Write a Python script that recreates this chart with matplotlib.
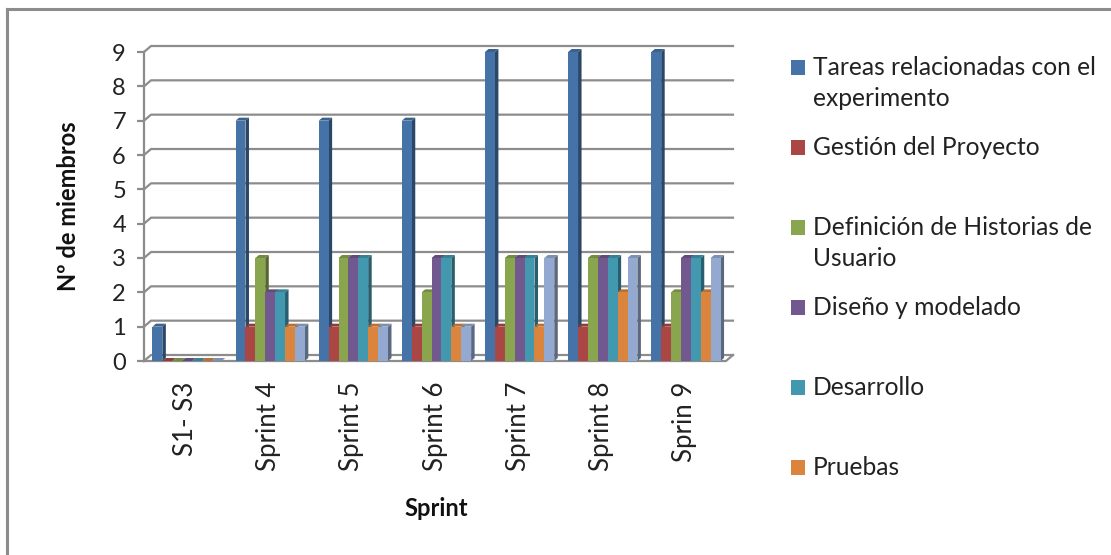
import matplotlib
matplotlib.use("Agg")
import matplotlib.pyplot as plt
from matplotlib.patches import Polygon, Rectangle
from matplotlib.colors import to_rgb
import numpy as np

plt.rcParams['font.family'] = ['Lato', 'DejaVu Sans']

categories = ["S1- S3", "Sprint 4", "Sprint 5", "Sprint 6", "Sprint 7", "Sprint 8", "Sprin 9"]
series_names = [
    ["Tareas relacionadas con el", "experimento"],
    ["Gestión del Proyecto"],
    ["Definición de Historias de", "Usuario"],
    ["Diseño y modelado"],
    ["Desarrollo"],
    ["Pruebas"],
]
tareas = [1, 7, 7, 7, 9, 9, 9]
gestion = [0, 1, 1, 1, 1, 1, 1]
definicion = [0, 3, 3, 2, 3, 3, 2]
diseno = [0, 2, 3, 3, 3, 3, 3]
desarrollo = [0, 2, 3, 3, 3, 3, 3]
pruebas = [0, 1, 1, 1, 1, 2, 2]
otros = [0, 1, 1, 1, 3, 3, 3]
series = [tareas, gestion, definicion, diseno, desarrollo, pruebas, otros]
colors = ['#4572A7', '#AA4643', '#89A54E', '#71588F', '#4198AF', '#DB843D', '#93A9CF']

W, H = 1111, 555
fig = plt.figure(figsize=(W / 100, H / 100), dpi=100)
fig.patch.set_facecolor('white')

# outer frame of the chart area
fig.add_artist(plt.Line2D([7 / W, 7 / W], [0, 1 - 9 / H], color='#8c8c8c', lw=2.2))
fig.add_artist(plt.Line2D([7 / W, 1], [1 - 9 / H, 1 - 9 / H], color='#8c8c8c', lw=2.2))

ax_left, ax_right = 144, 726
ax_top, ax_bot = 52, 361
ax = fig.add_axes([ax_left / W, (H - ax_bot) / H, (ax_right - ax_left) / W, (ax_bot - ax_top) / H])
n = len(categories)
ymax = 9
ax.set_xlim(0, n)
ax.set_ylim(0, ymax)
for s in ['top', 'right', 'bottom']:
    ax.spines[s].set_visible(False)
ax.spines['left'].set_color('#8c8c8c')
ax.spines['left'].set_linewidth(1.6)
ax.patch.set_alpha(0)

px_x = n / (ax_right - ax_left)      # data units per pixel, x
px_y = ymax / (ax_bot - ax_top)       # data units per pixel, y

# back wall depth and bar depth
wdx, wdy = 7 * px_x, 6 * px_y
bdx, bdy = 3.5 * px_x, 3.0 * px_y

grid_kw = dict(color='#8c8c8c', lw=1.6, clip_on=False, zorder=1)
for y in range(0, ymax + 1):
    ax.plot([0, wdx, n + wdx], [y, y + wdy, y + wdy], **grid_kw)
# floor
ax.plot([0, n, n + wdx], [0, 0, wdy], **grid_kw)

ax.set_yticks(range(0, ymax + 1))
ax.set_yticklabels([str(v) for v in range(0, ymax + 1)], fontsize=17, color='#222222')
ax.tick_params(axis='y', length=5, width=1.6, color='#8c8c8c', pad=8)

ax.set_xticks(np.arange(n) + 0.5)
ax.set_xticklabels(categories, rotation=90, fontsize=18.5, color='#222222', va='top')
ax.tick_params(axis='x', length=0, pad=15)

bw = 0.119
start = 0.5 - len(series) * bw / 2 + 1.5 * px_x


def shade(c, f):
    r, g, b = to_rgb(c)
    return (r * f, g * f, b * f)


for j, (vals, col) in enumerate(zip(series, colors)):
    xs = np.arange(n) + start + j * bw
    z = 3 + j * 0.1
    bars = ax.bar(xs, vals, width=bw, align='edge', color=col, edgecolor='none', zorder=z + 0.02)
    for rect, v in zip(bars, vals):
        x0 = rect.get_x()
        x1 = x0 + rect.get_width()
        side = Polygon([(x1, 0), (x1 + bdx, bdy), (x1 + bdx, v + bdy), (x1, v)],
                       closed=True, facecolor=shade(col, 0.62), edgecolor='none', zorder=z, clip_on=False)
        top = Polygon([(x0, v), (x0 + bdx, v + bdy), (x1 + bdx, v + bdy), (x1, v)],
                      closed=True, facecolor=shade(col, 0.85), edgecolor='none', zorder=z + 0.01, clip_on=False)
        ax.add_patch(side)
        ax.add_patch(top)

ax.set_ylabel("Nº de miembros", fontsize=17, fontweight='bold', color='#111111')
ax.yaxis.set_label_coords(-(ax_left - 80) / (ax_right - ax_left), 0.5)
ax.set_xlabel("Sprint", fontsize=17, fontweight='bold', color='#111111')
ax.xaxis.set_label_coords((436 - ax_left) / (ax_right - ax_left), -(497 - ax_bot) / (ax_bot - ax_top))

# legend: one slot per series, wrapped labels start at the top of their slot
leg_y0, leg_step, line_step = 67.5, 80, 31.5
for k, lines in enumerate(series_names):
    yc = leg_y0 + k * leg_step
    fig.add_artist(Rectangle((791 / W, (H - yc - 7.5) / H), 14 / W, 15 / H,
                             facecolor=colors[k], edgecolor='none', transform=fig.transFigure))
    for m, line in enumerate(lines):
        fig.text(813 / W, (H - yc - 7.5 - m * line_step) / H, line, fontsize=17.7, color='#222222',
                 va='baseline', ha='left', transform=fig.transFigure)

fig.savefig("out.png", dpi=100, facecolor='white')
